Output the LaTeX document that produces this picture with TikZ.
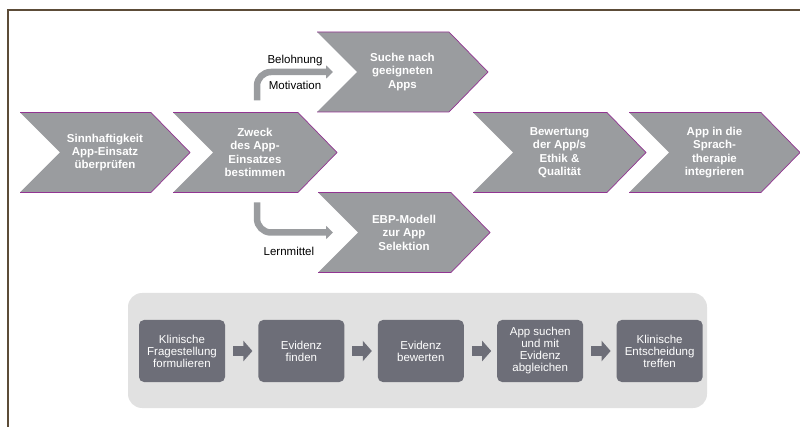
\documentclass[tikz,border=0pt]{standalone}
\usepackage{fontspec}
\setmainfont{Liberation Sans}
\usetikzlibrary{arrows.meta,positioning,backgrounds}

\definecolor{chevgrey}{RGB}{154,156,159}
\definecolor{chevpurple}{RGB}{146,52,146}
\definecolor{panelgrey}{RGB}{225,225,225}
\definecolor{boxgrey}{RGB}{109,110,120}
\definecolor{framebrown}{RGB}{92,76,56}

\tikzset{
	chevnode/.style={inner sep=0pt, outer sep=0pt, minimum height=80pt, text=white, align=center,
		font=\bfseries\fontsize{11.5}{13.4}\selectfont},
	chevfill/.style={fill=chevgrey},
	chevedge/.style={draw=chevpurple, line width=0.7pt},
	bendarrow/.style={draw=chevgrey, line width=6.5pt, rounded corners=14pt, -{Triangle[length=7pt,width=13pt]}},
	bendlabel/.style={font=\fontsize{11.5}{13}\selectfont},
	ebpstep/.style={fill=boxgrey, rounded corners=5pt, minimum width=86pt, minimum height=62pt,
		inner sep=0pt, outer sep=0pt, text=white, align=center, font=\fontsize{11.5}{12}\selectfont},
	steparrow/.style={draw=boxgrey, line width=10pt, -{Triangle[length=9pt,width=20pt]}, shorten <=8pt, shorten >=6pt},
}

\begin{document}
\begin{tikzpicture}[x=1pt, y=-1pt, node distance=33.4pt]
	\useasboundingbox (0,0) rectangle (800,427);
	
	% frame
	\draw[framebrown, line width=2pt] (8,427) -- (8,10) -- (800,10);
	
	% chevrons: name / left / middle / width / text
	\foreach \n/\x/\y/\w/\t in {
		sinn/20/152.5/170/{Sinnhaftigkeit\\App-Einsatz\\überprüfen},
		zweck/173/152.5/164/{Zweck\\des App-\\Einsatzes\\bestimmen},
		suche/317/72/171/{Suche nach\\geeigneten\\Apps},
		ebp/318/232.5/172/{EBP-Modell\\zur App\\Selektion},
		bewert/473/152.5/173/{Bewertung\\der App/s\\Ethik \&\\Qualität},
		integ/629/152.5/171/{App in die\\Sprach-\\therapie\\integrieren}}{
		\node[chevnode, minimum width=\w pt] (\n) at (\x+\w/2,\y) {\t};
		\begin{pgfonlayer}{background}
			\fill[chevfill] (\n.north west) -- ([xshift=-39pt]\n.north east) -- (\n.east)
				-- ([xshift=-39pt]\n.south east) -- (\n.south west) -- ([xshift=40pt]\n.west) -- cycle;
			\draw[chevedge] (\n.north west) -- ([xshift=-39pt]\n.north east) -- (\n.east)
				-- ([xshift=-39pt]\n.south east) -- (\n.south west);
		\end{pgfonlayer}
	}
	
	% branches out of the purpose step
	\draw[bendarrow] ([xshift=2pt,yshift=12pt]zweck.north) |- ([xshift=16pt]suche.west)
		node[bendlabel, pos=0.75, above] (belohnung) {Belohnung}
		node[bendlabel, pos=0.75, below, yshift=-3pt] (motivation) {Motivation};
	\draw[bendarrow] ([xshift=2pt,yshift=-10pt]zweck.south) |- ([xshift=15pt]ebp.west)
		node[bendlabel, pos=0.71, below, yshift=-8pt] (lernmittel) {Lernmittel};
	
	% EBP steps
	\node[fill=panelgrey, rounded corners=14pt, minimum width=579pt, minimum height=115pt] (panel) at (417.5,350.5) {};
	\node[ebpstep] (frage) at (182,351) {Klinische\\Fragestellung\\formulieren};
	\node[ebpstep, right=of frage] (finden) {Evidenz\\finden};
	\node[ebpstep, right=of finden] (bewerten) {Evidenz\\bewerten};
	\node[ebpstep, right=of bewerten] (abgleich) {App suchen\\und mit\\Evidenz\\abgleichen};
	\node[ebpstep, right=of abgleich] (entscheid) {Klinische\\Entscheidung\\treffen};
	\foreach \a/\b in {frage/finden, finden/bewerten, bewerten/abgleich, abgleich/entscheid}
		\draw[steparrow] (\a) -- (\b);
\end{tikzpicture}
\end{document}
